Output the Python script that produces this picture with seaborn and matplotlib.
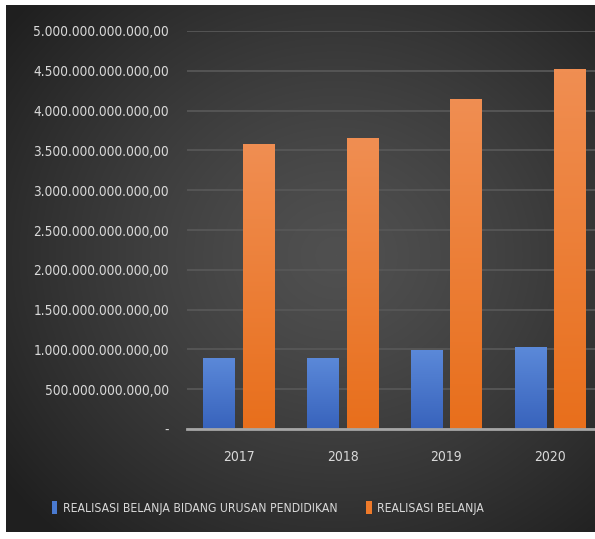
import numpy as np
import pandas as pd
import matplotlib
matplotlib.use("Agg")
import matplotlib.pyplot as plt
from matplotlib.patches import Patch
from matplotlib.ticker import FuncFormatter, MultipleLocator
import matplotlib.colors as mcolors
import seaborn as sns

# --- data ---------------------------------------------------------------
years = ["2017", "2018", "2019", "2020"]
belanja_pendidikan = [0.892e12, 0.892e12, 0.996e12, 1.030e12]
belanja_total = [3.580e12, 3.650e12, 4.150e12, 4.520e12]
series_names = ["REALISASI BELANJA BIDANG URUSAN PENDIDIKAN", "REALISASI BELANJA"]

df = pd.DataFrame({
    "Tahun": years * 2,
    "Nilai": belanja_pendidikan + belanja_total,
    "Seri": [series_names[0]] * len(years) + [series_names[1]] * len(years),
})

# --- style --------------------------------------------------------------
sns.set_theme(style="dark")
plt.rcParams["font.family"] = ["DejaVu Sans Condensed", "DejaVu Sans"]
plt.rcParams["font.stretch"] = "condensed"
text_col = "#d9d9d9"
palette = {series_names[0]: "#4a7ad0", series_names[1]: "#ee7a2a"}
grad = {
    series_names[0]: ("#5b89d9", "#3863bc"),
    series_names[1]: ("#f08e52", "#e86f1c"),
}

W, H = 595, 539
fig = plt.figure(figsize=(W / 100, H / 100), dpi=100, facecolor="white")

# dark radial-gradient backdrop
bg = fig.add_axes([6 / W, 7 / H, (W - 6) / W, (532 - 5) / H])
bg.set_axis_off()
yy, xx = np.mgrid[0:527, 0:589]
cx, cy = 330, 250
r = np.sqrt(((xx - cx) / 1.0) ** 2 + ((yy - cy) / 0.9) ** 2) / 420.0
r = np.clip(r, 0, 1)
inner = np.array(mcolors.to_rgb("#505050"))
outer = np.array(mcolors.to_rgb("#1f1f1f"))
img = inner[None, None, :] * (1 - r[..., None] ** 1.3) + outer[None, None, :] * (r[..., None] ** 1.3)
bg.imshow(img, aspect="auto", interpolation="bilinear")

# plotting area
ax_left = 187 / W
ax_bottom = (H - 429) / H
ax_top = (H - 31) / H
ax = fig.add_axes([ax_left, ax_bottom, 602 / W - ax_left, ax_top - ax_bottom])
ax.patch.set_alpha(0)

sns.barplot(data=df, x="Tahun", y="Nilai", hue="Seri", palette=palette,
            width=0.76, gap=0.2, legend=False, ax=ax, zorder=3)

ax.set_ylim(0, 5.0e12)
ax.set_xlim(-0.5, len(years) - 0.5)

# vertical gradient fill clipped to each bar
hue_order = series_names
n = len(years)
for i, bar in enumerate(ax.patches):
    seri = hue_order[i // n]
    top_c, bot_c = (np.array(mcolors.to_rgb(c)) for c in grad[seri])
    x0, y0 = bar.get_x(), bar.get_y()
    w, h = bar.get_width(), bar.get_height()
    t = np.linspace(0, 1, 64)[:, None]
    g = top_c[None, :] * (1 - t) + bot_c[None, :] * t
    g = np.repeat(g[:, None, :], 2, axis=1)
    im = ax.imshow(g, extent=(x0, x0 + w, y0, y0 + h), aspect="auto",
                   zorder=3, interpolation="bilinear")
    im.set_clip_path(bar)
    bar.set_facecolor("none")
    bar.set_edgecolor("none")

ax.set_ylim(0, 5.0e12)
ax.set_xlim(-0.5, len(years) - 0.5)
ax.set_aspect("auto")


def rupiah(v, pos):
    if abs(v) < 1:
        return "-"
    s = f"{v:,.2f}"
    return s.replace(",", "#").replace(".", ",").replace("#", ".")


ax.yaxis.set_major_locator(MultipleLocator(0.5e12))
ax.yaxis.set_major_formatter(FuncFormatter(rupiah))
ax.grid(axis="y", color="#575757", linewidth=1.3, zorder=0)
ax.grid(axis="x", visible=False)
for s in ["left", "right", "top"]:
    ax.spines[s].set_visible(False)
ax.spines["bottom"].set_color("#a6a6a6")
ax.spines["bottom"].set_linewidth(2.0)
ax.spines["bottom"].set_zorder(4)

ax.tick_params(axis="y", length=0, pad=13, labelsize=9.8, labelcolor=text_col)
ax.tick_params(axis="x", length=0, pad=15, labelsize=10, labelcolor=text_col)
ax.set_xlabel("")
ax.set_ylabel("")

handles = [Patch(facecolor=palette[s], edgecolor="none") for s in series_names]
fig.legend(handles, series_names, loc="center", bbox_to_anchor=(268 / W, 1 - 508 / H),
           ncol=2, frameon=False, fontsize=8.7, labelcolor=text_col,
           handlelength=0.45, handleheight=1.3, handletextpad=0.45,
           columnspacing=2.4)

fig.savefig("out.png", dpi=100, facecolor="white")
